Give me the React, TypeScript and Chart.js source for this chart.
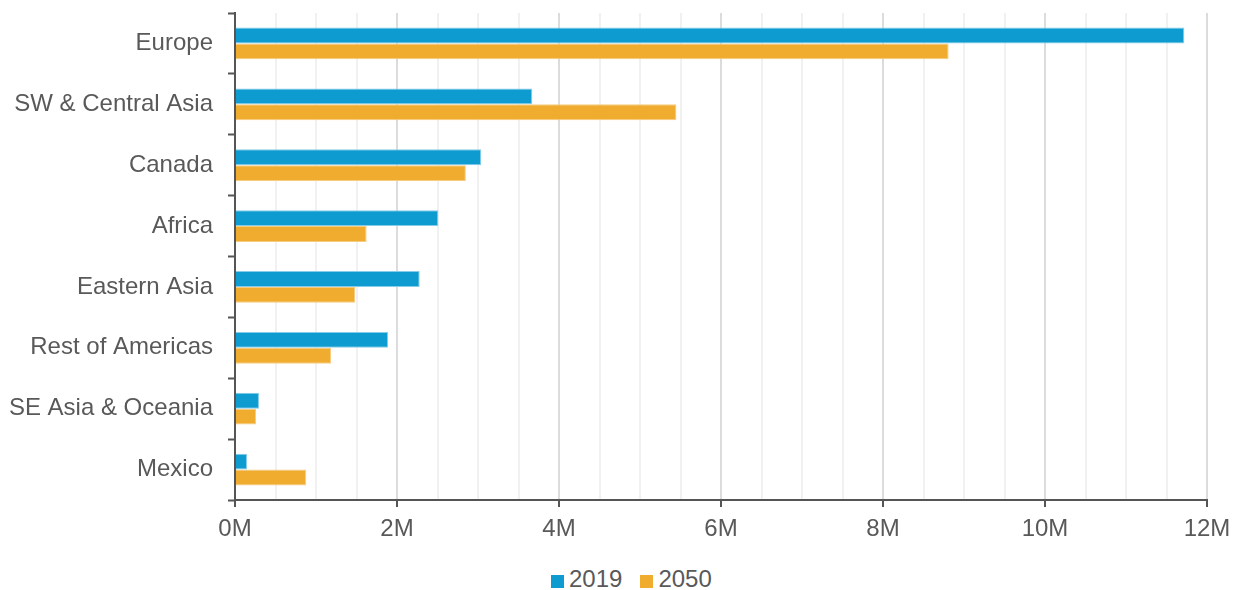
import React, { useEffect, useRef } from "react";
import { Chart, registerables } from "chart.js";

Chart.register(...registerables);

const categories = [
  "Europe",
  "SW & Central Asia",
  "Canada",
  "Africa",
  "Eastern Asia",
  "Rest of Americas",
  "SE Asia & Oceania",
  "Mexico",
];
const values2019 = [11720000, 3670000, 3040000, 2510000, 2280000, 1890000, 296000, 148000];
const values2050 = [8810000, 5450000, 2850000, 1625000, 1485000, 1185000, 260000, 880000];
const seriesNames = ["2019", "2050"];
const seriesColors = ["#0D9BD0", "#F0AC2F"];
const seriesBorders = ["#86CCEA", "#F6CC80"];

const FONT = "'Liberation Sans', Arial, sans-serif";
const TEXT = "#595959";
const AXIS = "#555555";

export default function App() {
  const ref = useRef<HTMLCanvasElement | null>(null);

  useEffect(() => {
    if (!ref.current) return;
    const chart = new Chart(ref.current, {
      type: "bar",
      data: {
        labels: categories,
        datasets: [
          {
            label: seriesNames[0],
            data: values2019,
            backgroundColor: seriesColors[0],
            borderColor: seriesBorders[0],
            borderWidth: 1,
            categoryPercentage: 0.52,
            barPercentage: 1,
          },
          {
            label: seriesNames[1],
            data: values2050,
            backgroundColor: seriesColors[1],
            borderColor: seriesBorders[1],
            borderWidth: 1,
            categoryPercentage: 0.52,
            barPercentage: 1,
          },
        ],
      },
      options: {
        indexAxis: "y",
        responsive: false,
        animation: false,
        layout: { padding: { top: 13, right: 28, left: 0, bottom: 0 } },
        plugins: { legend: { display: false }, tooltip: { enabled: false } },
        scales: {
          x: {
            type: "linear",
            min: 0,
            max: 12000000,
            afterFit: (s: any) => {
              s.height = 52;
              s.paddingLeft = 0;
              s.paddingRight = 0;
            },
            ticks: {
              stepSize: 500000,
              autoSkip: false,
              maxRotation: 0,
              padding: 8,
              color: TEXT,
              font: { family: FONT, size: 24 },
              callback: (v: any) => (Number(v) % 2000000 === 0 ? Number(v) / 1000000 + "M" : ""),
            },
            grid: {
              lineWidth: 2,
              color: (ctx: any) =>
                ctx.tick && ctx.tick.value % 2000000 === 0 ? "#DCDCDC" : "#F1F1F1",
              tickColor: (ctx: any) =>
                ctx.tick && ctx.tick.value % 2000000 === 0 ? AXIS : "rgba(0,0,0,0)",
              tickLength: 7,
              tickWidth: 2,
            },
            border: { display: true, color: AXIS, width: 2 },
          },
          y: {
            type: "category",
            afterFit: (s: any) => {
              s.width = 235;
              s.paddingTop = 0;
              s.paddingBottom = 0;
            },
            ticks: {
              padding: 15,
              color: TEXT,
              font: { family: FONT, size: 24 },
            },
            grid: {
              offset: true,
              drawOnChartArea: false,
              tickLength: 7,
              tickColor: AXIS,
              tickWidth: 2,
            },
            border: { display: true, color: AXIS, width: 2 },
          },
        },
      },
    });
    return () => chart.destroy();
  }, []);

  const legendText: React.CSSProperties = {
    fontFamily: FONT,
    fontSize: 24,
    lineHeight: "27px",
    color: TEXT,
  };
  const box = (c: string): React.CSSProperties => ({
    width: 13,
    height: 13,
    background: c,
    marginBottom: 4,
  });

  return (
    <div style={{ position: "absolute", left: 0, top: 0, width: 1235, height: 590 }}>
      <canvas ref={ref} width={1235} height={552} style={{ display: "block" }} />
      <div
        style={{
          position: "absolute",
          left: 551,
          top: 565,
          display: "flex",
          alignItems: "flex-end",
        }}
      >
        <div style={box(seriesColors[0])} />
        <span style={{ ...legendText, marginLeft: 5 }}>{seriesNames[0]}</span>
        <div style={{ ...box(seriesColors[1]), marginLeft: 18 }} />
        <span style={{ ...legendText, marginLeft: 5 }}>{seriesNames[1]}</span>
      </div>
    </div>
  );
}
